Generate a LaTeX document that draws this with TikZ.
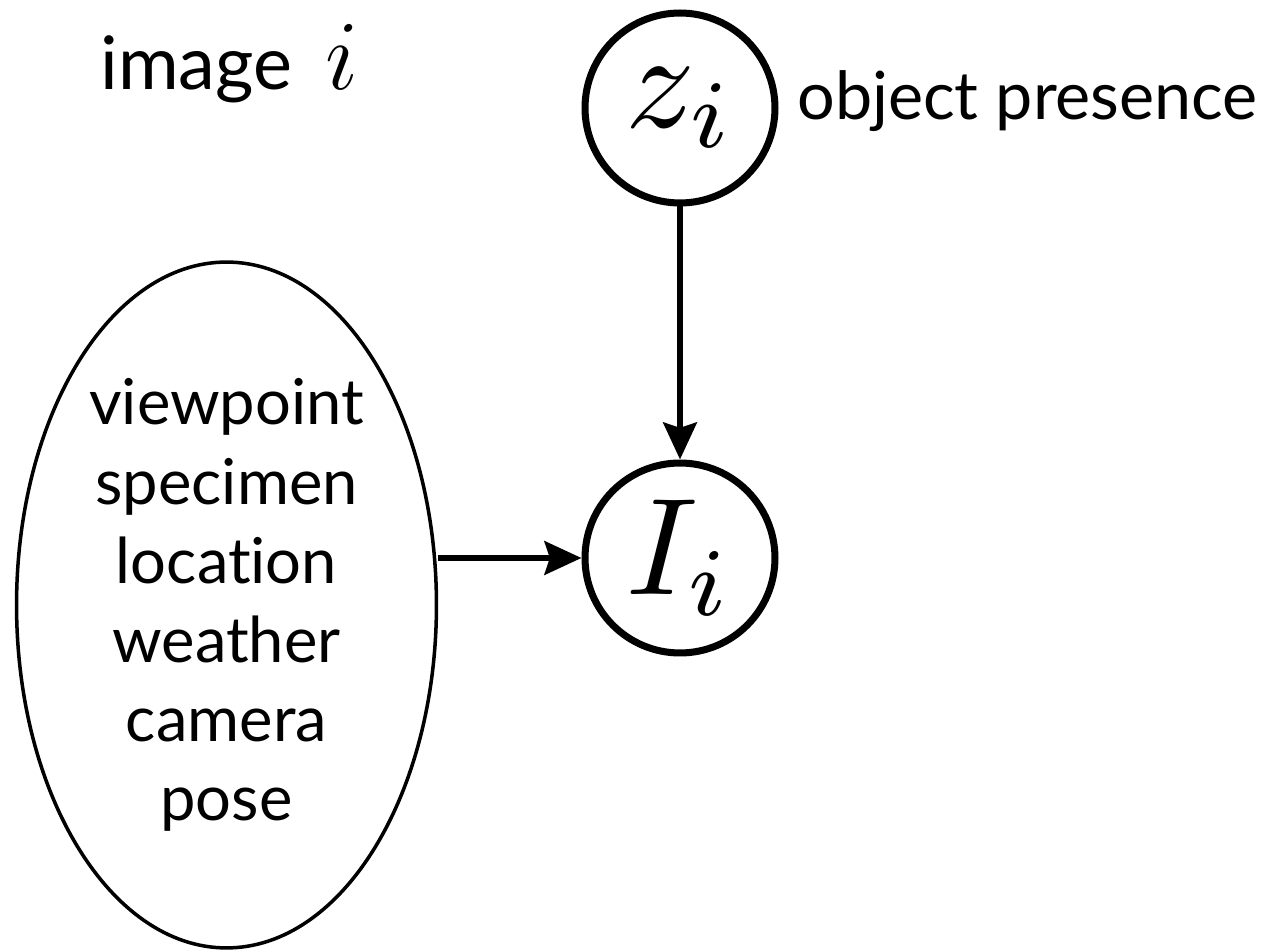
\RequirePackage{fix-cm}
\documentclass[tikz,border=0pt]{standalone}
\usepackage{fontspec}
\setmainfont{Lato}[Ligatures={NoCommon}]
\usetikzlibrary{shapes.geometric,arrows.meta}
\newcommand{\tallmath}[2]{\resizebox*{!}{#1}{$#2$}}
\tikzset{
  var/.style={circle, draw, line width=4pt, minimum size=3.8cm, inner sep=0pt},
  big/.style={ellipse, draw, line width=2pt, minimum width=8.4cm, minimum height=13.72cm,
    inner sep=0pt, align=center, font=\fontsize{36}{45}\selectfont},
  edge/.style={line width=3.6pt, -{Stealth[length=21pt,width=19pt,inset=3pt]}},
  lbl/.style={inner sep=0pt, anchor=base west}
}
\begin{document}
\begin{tikzpicture}[x=0.02cm,y=-0.02cm]
\useasboundingbox (0,0) rectangle (1269,952);
\node[var] (z) at (680,108) {\tallmath{1.6cm}{z_i}};
\node[var] (I) at (680,558) {\tallmath{2.3cm}{I_i}};
\node[big] (h) at (226.5,605) {viewpoint\\specimen\\location\\weather\\camera\\pose};
\node[lbl, font=\fontsize{42}{50}\selectfont] (img) at (100,90) {image\hspace{0.45em}\tallmath{1.3cm}{i}};
\node[lbl, font=\fontsize{37.8}{40}\selectfont] (op) at (797,120) {object presence};
\draw[edge] (z) -- (I);
\draw[edge] (h.east |- I.west) -- (I.west);
\end{tikzpicture}
\end{document}
